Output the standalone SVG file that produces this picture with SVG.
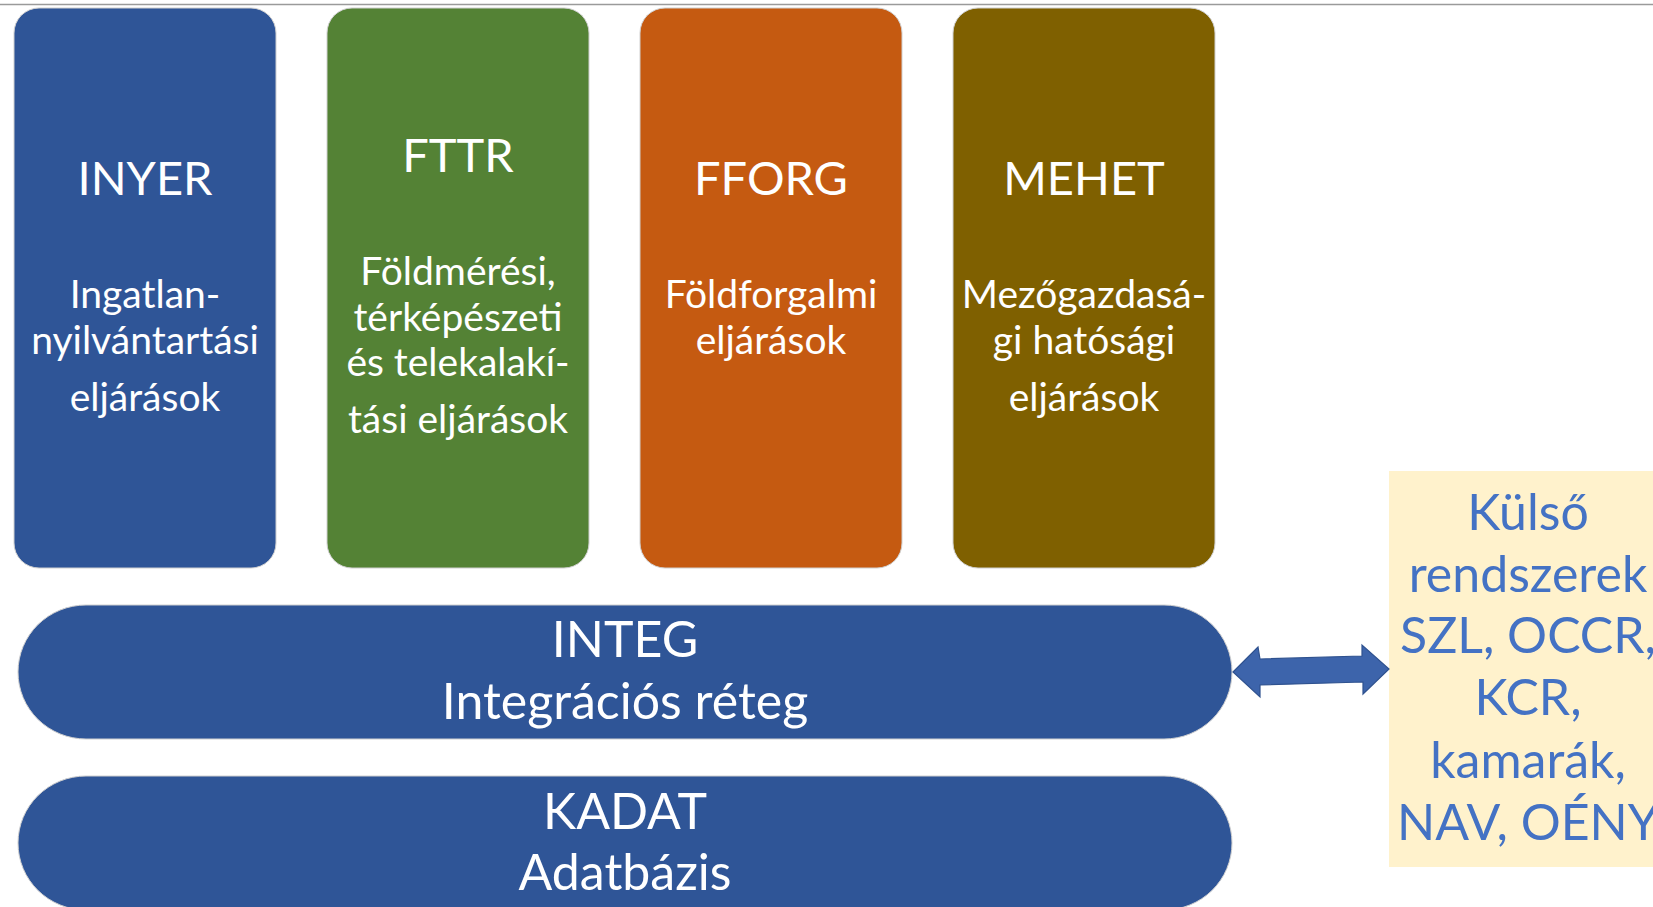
<svg xmlns="http://www.w3.org/2000/svg" width="1653" height="907" viewBox="0 0 1653 907">
<style>
.box{stroke:#d0d0d0;stroke-width:1}
.t{font-family:Lato,"Liberation Sans",sans-serif;fill:#ffffff;text-anchor:middle}
.title{font-size:47px}
.sub{font-size:39px}
.bar{font-size:50px}
.ext{font-family:Lato,"Liberation Sans",sans-serif;fill:#4472C4;text-anchor:middle;font-size:50px}
</style>
<line x1="0" y1="4.5" x2="1653" y2="4.5" stroke="#9a9a9a" stroke-width="1.5"/>
<g id="inyer">
<rect class="box" x="14" y="8" width="262" height="560" rx="25" ry="25" fill="#2F5597"/>
<text class="t title" x="145" y="195">INYER</text>
<text class="t sub" x="145" y="308">Ingatlan-</text>
<text class="t sub" x="145" y="354">nyilvántartási</text>
<text class="t sub" x="145" y="411">eljárások</text>
</g>
<g id="fttr">
<rect class="box" x="327" y="8" width="262" height="560" rx="25" ry="25" fill="#548235"/>
<text class="t title" x="458" y="172">FTTR</text>
<text class="t sub" x="458" y="285">Földmérési,</text>
<text class="t sub" x="458" y="331">térképészeti</text>
<text class="t sub" x="458" y="376">és telekalakí-</text>
<text class="t sub" x="458" y="433">tási eljárások</text>
</g>
<g id="fforg">
<rect class="box" x="640" y="8" width="262" height="560" rx="25" ry="25" fill="#C55A11"/>
<text class="t title" x="771" y="195">FFORG</text>
<text class="t sub" x="771" y="308">Földforgalmi</text>
<text class="t sub" x="771" y="354">eljárások</text>
</g>
<g id="mehet">
<rect class="box" x="953" y="8" width="262" height="560" rx="25" ry="25" fill="#7F6000"/>
<text class="t title" x="1084" y="195">MEHET</text>
<text class="t sub" x="1084" y="308">Mezőgazdasá-</text>
<text class="t sub" x="1084" y="354">gi hatósági</text>
<text class="t sub" x="1084" y="411">eljárások</text>
</g>
<g id="integ">
<rect class="box" x="18" y="605" width="1214" height="134" rx="68" ry="67" fill="#2F5597"/>
<text class="t bar" x="625" y="657">INTEG</text>
<text class="t bar" x="625" y="719">Integrációs réteg</text>
</g>
<g id="kadat">
<rect class="box" x="18" y="776" width="1214" height="134" rx="68" ry="67" fill="#2F5597"/>
<text class="t bar" x="625" y="829">KADAT</text>
<text class="t bar" x="625" y="890">Adatbázis</text>
</g>
<g id="kulso">
<rect x="1389" y="471" width="280" height="396" fill="#FFF2CC"/>
<text class="ext" x="1528" y="530">Külső</text>
<text class="ext" x="1528" y="592">rendszerek</text>
<text class="ext" x="1528" y="653">SZL, OCCR,</text>
<text class="ext" x="1528" y="715">KCR,</text>
<text class="ext" x="1528" y="778">kamarák,</text>
<text class="ext" x="1528" y="840">NAV, OÉNY</text>
</g>
<g id="connectors">
<path d="M1233,672 L1258,647 L1260,659 L1362,656 L1362,645 L1389,669 L1363,694 L1363,682 L1260,685 L1260,697 Z" fill="#3D64AB" stroke="#2F528F" stroke-width="1.2" stroke-linejoin="miter"/>
</g>
</svg>
